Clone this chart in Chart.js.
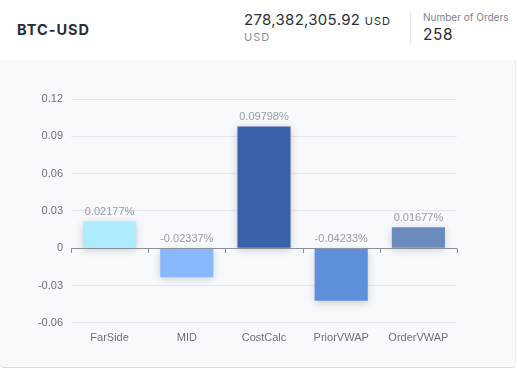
<!DOCTYPE html>
<html>
<head>
<meta charset="utf-8">
<script src="https://cdn.jsdelivr.net/npm/chart.js@4/dist/chart.umd.min.js"></script>
<style>
body { margin: 0; width: 517px; height: 370px; background: #fff; overflow: hidden; font-family: Inter, "Open Sans", sans-serif; }
#header { position: absolute; left: 0; top: 0; width: 517px; height: 60px; }
#pair { position: absolute; left: 17px; top: 21px; font-size: 14.5px; font-weight: 700; letter-spacing: 1px; color: #262b36; }
#amount { position: absolute; left: 244px; top: 10px; font-size: 15px; color: #2b2f3a; letter-spacing: 0.3px; white-space: nowrap; }
#amount span { font-size: 11px; letter-spacing: 1px; }
#unit { position: absolute; left: 244px; top: 30px; font-size: 11px; color: #8a8f99; letter-spacing: 1px; }
#sep { position: absolute; left: 410px; top: 11px; width: 1px; height: 34px; background: #e3e6ec; }
#ordersLabel { position: absolute; left: 423px; top: 11px; font-size: 10px; color: #7d828c; white-space: nowrap; }
#orders { position: absolute; left: 423px; top: 25px; font-size: 15.5px; color: #2b2f3a; letter-spacing: 0.6px; }
#panel { position: absolute; left: 0; top: 60px; width: 515px; height: 307px; background: #f8f9fd; border-bottom: 1px solid #d8dbe0; border-right: 1px solid #eef0f4; border-radius: 0 0 4px 4px; }
#chart { position: absolute; left: 0; top: 0; }
</style>
</head>
<body>
<div id="header">
  <div id="pair">BTC-USD</div>
  <div id="amount">278,382,305.92 <span>USD</span></div>
  <div id="unit">USD</div>
  <div id="sep"></div>
  <div id="ordersLabel">Number of Orders</div>
  <div id="orders">258</div>
</div>
<div id="panel"><canvas id="chart" width="515" height="307"></canvas></div>
<script>
var categories = ["FarSide", "MID", "CostCalc", "PriorVWAP", "OrderVWAP"];
var slippageValues = [0.02177, -0.02337, 0.09798, -0.04233, 0.01677];
var barColors = ["#aeebfd", "#87b9fc", "#3a62aa", "#5d8fdb", "#6b8abe"];
var yTicks = [-0.06, -0.03, 0, 0.03, 0.06, 0.09, 0.12];

var shadowPlugin = {
	id: "barShadow",
	beforeDatasetDraw: function(chart) {
		var ctx = chart.ctx;
		ctx.save();
		ctx.shadowColor = "rgba(0,0,0,0.18)";
		ctx.shadowBlur = 8;
		ctx.shadowOffsetY = 2;
	},
	afterDatasetDraw: function(chart) {
		chart.ctx.restore();
	}
};

var axisPlugin = {
	id: "zeroAxis",
	afterDatasetsDraw: function(chart) {
		var ctx = chart.ctx;
		var y0 = chart.scales.y.getPixelForValue(0);
		ctx.save();
		ctx.strokeStyle = "#8c8f96";
		ctx.lineWidth = 1;
		ctx.beginPath();
		ctx.moveTo(chart.chartArea.left, Math.round(y0) + 0.5);
		ctx.lineTo(chart.chartArea.right, Math.round(y0) + 0.5);
		var step = (chart.chartArea.right - chart.chartArea.left) / categories.length;
		for (var i = 0; i <= categories.length; i++) {
			var px = Math.round(chart.chartArea.left + step * i) + 0.5;
			ctx.moveTo(px, Math.round(y0) + 0.5);
			ctx.lineTo(px, Math.round(y0) + 5);
		}
		ctx.stroke();
		// value labels
		ctx.fillStyle = "#9a9ca3";
		ctx.font = "11px 'Liberation Sans', Arial, sans-serif";
		ctx.textAlign = "center";
		ctx.textBaseline = "bottom";
		var meta = chart.getDatasetMeta(0);
		meta.data.forEach(function(bar, i) {
			var v = slippageValues[i];
			var top = v >= 0 ? bar.y : y0;
			ctx.fillText(v.toFixed(5) + "%", bar.x, top - 4);
		});
		ctx.restore();
	}
};

new Chart(document.getElementById("chart"), {
	type: "bar",
	data: {
		labels: categories,
		datasets: [{
			data: slippageValues,
			backgroundColor: barColors,
			borderColor: barColors,
			borderWidth: 0,
			barPercentage: 0.86,
			categoryPercentage: 0.8
		}]
	},
	plugins: [shadowPlugin, axisPlugin],
	options: {
		responsive: false,
		animation: false,
		layout: { padding: { top: 39, right: 58, bottom: 13, left: 0 } },
		plugins: { legend: { display: false }, tooltip: { enabled: false } },
		scales: {
			x: {
				grid: { display: false, drawTicks: false },
				border: { display: false },
				ticks: { color: "#6e7079", padding: 9, font: { size: 11, family: "'Liberation Sans', Arial, sans-serif" } }
			},
			y: {
				min: -0.06,
				max: 0.12,
				afterBuildTicks: function(scale) {
					scale.ticks = yTicks.map(function(v) { return { value: v }; });
				},
				afterFit: function(scale) { scale.width = 71; },
				grid: {
					color: function(c) { return c.tick && c.tick.value === 0 ? "rgba(0,0,0,0)" : "#e4e7f2"; },
					drawTicks: false
				},
				border: { display: false },
				ticks: {
					color: "#6e7079",
					padding: 8,
					font: { size: 11, family: "'Liberation Sans', Arial, sans-serif" },
					callback: function(v) { return String(Math.round(v * 100) / 100); }
				}
			}
		}
	}
});
</script>
</body>
</html>
